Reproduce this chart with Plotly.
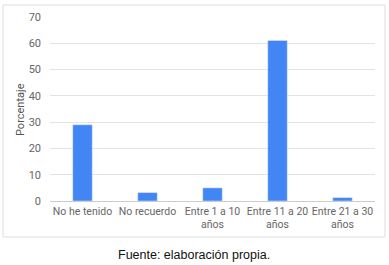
import plotly.graph_objects as go

categories = ["No he tenido", "No recuerdo", "Entre 1 a 10<br>años", "Entre 11 a 20<br>años", "Entre 21 a 30<br>años"]
values = [29.0, 3.2, 5.0, 61.1, 1.3]
y_ticks = [0, 10, 20, 30, 40, 50, 60, 70]

W, H = 389, 265
L, R, T, B = 50, 14, 17, 64
pw, ph = W - L - R, H - T - B

def px(x):
    return (x - L) / pw

def py(y):
    return (H - B - y) / ph

fig = go.Figure(go.Bar(x=categories, y=values, marker_color="#4285f4", width=0.3))

fig.update_layout(
    width=W, height=H,
    margin=dict(l=L, r=R, t=T, b=B, autoexpand=False),
    paper_bgcolor="white", plot_bgcolor="white",
    showlegend=False,
    font=dict(family="Roboto, Arial, sans-serif", size=10.5, color="#666666"),
    xaxis=dict(showgrid=False, ticks="", tickangle=0, automargin=False, ticklabelstandoff=2,
               tickfont=dict(size=10.5, color="#666666"), showline=False),
    yaxis=dict(range=[0, 70], tickvals=y_ticks, gridcolor="#e3e3e3", zeroline=True, automargin=False,
               zerolinecolor="#cccccc", zerolinewidth=1, ticks="", ticklabelstandoff=8,
               tickfont=dict(size=11, color="#666666")),
    shapes=[dict(type="rect", xref="paper", yref="paper",
                 x0=px(3), x1=px(385), y0=py(237), y1=py(5),
                 line=dict(color="#dddddd", width=1), fillcolor="rgba(0,0,0,0)", layer="below")],
    annotations=[
        dict(text="Porcentaje", xref="paper", yref="paper", x=px(20), y=py(110),
             textangle=-90, showarrow=False, font=dict(size=11, color="#555555"),
             xanchor="center", yanchor="middle"),
        dict(text="Fuente: elaboración propia.", xref="paper", yref="paper", x=px(194), y=py(255),
             showarrow=False, font=dict(family="Liberation Sans, Arial, sans-serif", size=12.5, color="#111111"),
             xanchor="center", yanchor="middle"),
    ],
)

fig.write_html("out.html")
